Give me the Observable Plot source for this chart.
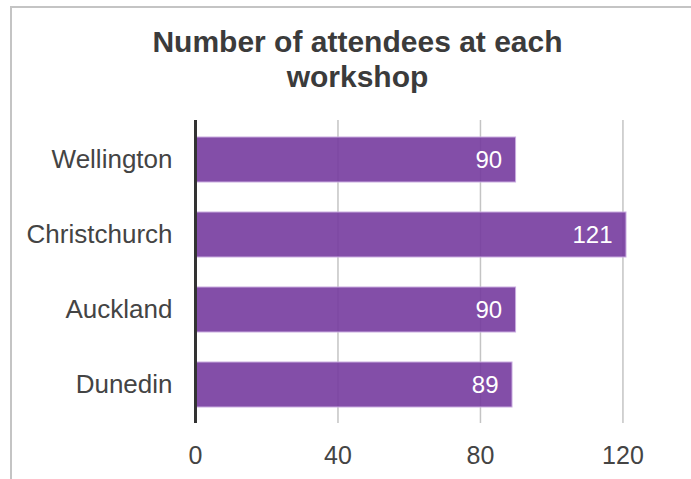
<!DOCTYPE html>
<html>
<head>
<meta charset="utf-8">
<script src="https://cdn.jsdelivr.net/npm/d3@7"></script>
<script src="https://cdn.jsdelivr.net/npm/@observablehq/plot@0.6"></script>
<style>
  html, body { margin: 0; padding: 0; background: #fff; width: 691px; height: 479px; overflow: hidden; }
  #frame { position: absolute; left: 10px; top: 6px; width: 720px; height: 520px;
           border-top: 2px solid #c4c4c4; border-left: 2px solid #c4c4c4; }
  #title { position: absolute; left: 11px; width: 693px; top: 24px; text-align: center;
           font-family: "Liberation Sans", Arial, sans-serif; font-weight: bold; font-size: 30px;
           line-height: 35px; color: #3b3b3b; }
  #chart { position: absolute; left: 0; top: 0; }
</style>
</head>
<body>
<div id="frame"></div>
<div id="chart"></div>
<div id="title">Number of attendees at each<br>workshop</div>
<script>
const categories = ["Wellington", "Christchurch", "Auckland", "Dunedin"];
const values = [90, 121, 90, 89];
const xTicks = [0, 40, 80, 120];
const gridTicks = [40, 80, 120];

const data = categories.map((c, i) => ({ workshop: c, count: values[i] }));

const chart = Plot.plot({
  width: 691,
  height: 479,
  marginLeft: 195,
  marginRight: 65,
  marginTop: 120,
  marginBottom: 56,
  style: { fontFamily: "'Liberation Sans', Arial, sans-serif", background: "transparent" },
  x: { domain: [0, 121], ticks: xTicks },
  y: { domain: categories, paddingInner: 0.4, paddingOuter: 0.2 },
  marks: [
    Plot.ruleX(gridTicks, { stroke: "#c4c4c4", strokeWidth: 1.5 }),
    Plot.barX(data, { y: "workshop", x: "count", fill: "rgb(117,59,158)", fillOpacity: 0.9,
                      stroke: "#c9ace0", strokeWidth: 1 }),
    Plot.text(data, { y: "workshop", x: "count", text: d => String(d.count), dx: -14,
                      textAnchor: "end", fill: "white", fontSize: 24 }),
    Plot.axisX({ ticks: xTicks, tickSize: 0, tickPadding: 23, fontSize: 25, color: "#444", label: null }),
    Plot.axisY({ tickSize: 0, tickPadding: 23, fontSize: 26, color: "#444", label: null }),
    Plot.ruleX([0], { stroke: "#333", strokeWidth: 3 })
  ]
});
document.getElementById("chart").appendChild(chart);
</script>
</body>
</html>
